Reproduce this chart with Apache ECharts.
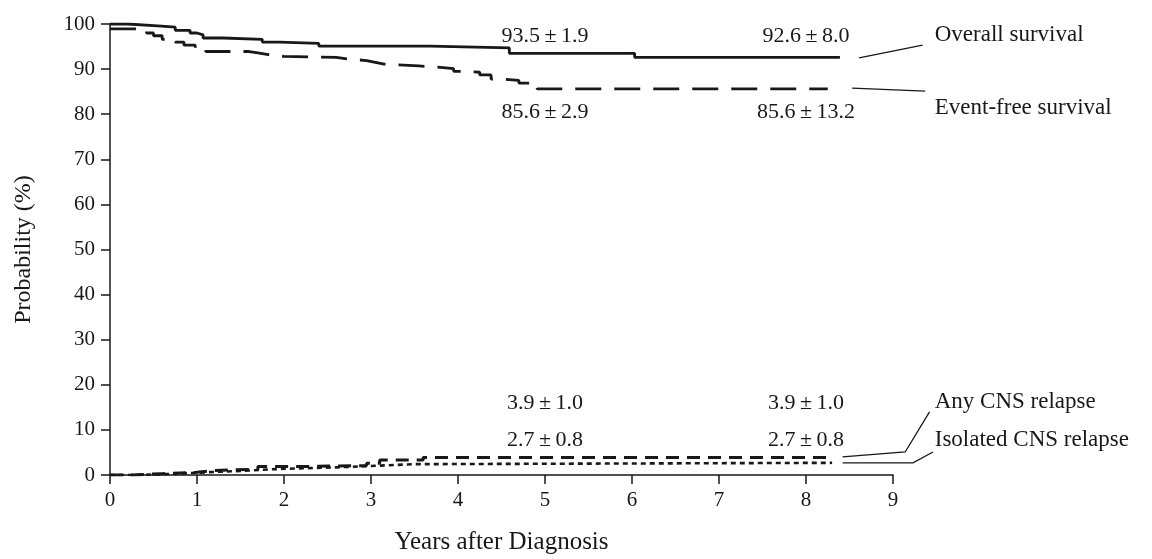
<!DOCTYPE html>
<html>
<head>
<meta charset="utf-8">
<script src="https://cdn.jsdelivr.net/npm/echarts@6/dist/echarts.min.js"></script>
<style>
  html, body { margin: 0; padding: 0; background: #ffffff; }
  #chart { width: 1152px; height: 559px; }
</style>
</head>
<body>
<div id="chart"></div>
<script>
// Kaplan-Meier estimates: [years after diagnosis, probability %]; each point starts a new step
const overallSurvival = [
  [0, 100], [0.2, 99.6], [0.55, 99.3], [0.75, 98.6], [0.92, 98.0], [1.0, 97.6],
  [1.07, 96.9], [1.3, 96.6], [1.75, 96.0], [1.95, 95.7], [2.4, 95.1],
  [3.68, 94.7], [4.59, 93.5], [6.03, 92.6], [8.39, 92.6]
];
const eventFreeSurvival = [
  [0, 98.9], [0.42, 98.0], [0.5, 97.4], [0.6, 96.6], [0.75, 96.0], [0.85, 95.3],
  [0.98, 94.7], [1.1, 93.9], [1.6, 93.6], [1.7, 93.2], [1.82, 92.8], [2.0, 92.6],
  [2.6, 92.2], [2.75, 91.9], [2.95, 91.5], [3.05, 91.1], [3.15, 90.7], [3.55, 90.4],
  [3.8, 90.1], [3.95, 89.5], [4.1, 89.3], [4.25, 88.7], [4.38, 87.8], [4.5, 87.5],
  [4.7, 86.9], [4.91, 85.6], [8.25, 85.6]
];
// Cumulative incidence of CNS relapse
const anyCnsRelapse = [
  [0, 0], [0.25, 0.3], [0.6, 0.6], [1.0, 1.0], [1.2, 1.3], [1.7, 1.9],
  [2.3, 2.1], [2.95, 2.6], [3.1, 3.3], [3.6, 3.9], [8.3, 3.9]
];
const isolatedCnsRelapse = [
  [0, 0], [0.3, 0.3], [0.8, 0.6], [1.1, 0.9], [1.5, 1.3], [1.9, 1.7],
  [2.6, 2.0], [3.0, 2.4], [3.5, 2.7], [8.3, 2.7]
];

// Estimates (± SE) quoted at 5 and 8 years
const estimateYears = [5, 8];
const osEstimates = ['93.5\u2009±\u20091.9', '92.6\u2009±\u20098.0'];
const efsEstimates = ['85.6\u2009±\u20092.9', '85.6\u2009±\u200913.2'];
const anyCnsEstimates = ['3.9\u2009±\u20091.0', '3.9\u2009±\u20091.0'];
const isolatedCnsEstimates = ['2.7\u2009±\u20090.8', '2.7\u2009±\u20090.8'];

const curveNames = ['Overall survival', 'Event-free survival', 'Any CNS relapse', 'Isolated CNS relapse'];

const INK = '#1a1718';
const FONT = '"Liberation Serif", "DejaVu Serif", serif';

function stepSeries(name, data, type, width) {
  return {
    name, type: 'line', step: 'end', data, symbol: 'none', silent: true,
    lineStyle: { color: INK, width, type, cap: 'butt' },
    z: 3
  };
}

function textSeries(points, align, size) {
  return {
    type: 'scatter', symbolSize: 0, silent: true, clip: false,
    itemStyle: { opacity: 1 },
    data: points,
    label: {
      show: true, position: 'inside', align: align, verticalAlign: 'middle',
      color: INK, fontFamily: FONT, fontSize: size, opacity: 1,
      formatter: p => p.value[2]
    },
    z: 5
  };
}

// Leader lines joining curve ends to their names (may extend past the x-axis range)
function leaderSeries(paths) {
  return {
    type: 'custom', silent: true, clip: false,
    data: paths.map((_, i) => [i]),
    renderItem: (params, api) => {
      const pts = paths[params.dataIndex].map(p => api.coord(p));
      return {
        type: 'polyline',
        shape: { points: pts },
        style: { stroke: INK, lineWidth: 1.3, fill: null }
      };
    },
    z: 4
  };
}

// Vertical placement (probability units) of each row of estimate text
const osRow = 97.4, efsRow = 80.5, anyRow = 16.0, isoRow = 7.8;
const nameX = 9.48;

const estimateData = [];
estimateYears.forEach((yr, i) => {
  estimateData.push([yr, osRow, osEstimates[i]]);
  estimateData.push([yr, efsRow, efsEstimates[i]]);
  estimateData.push([yr, anyRow, anyCnsEstimates[i]]);
  estimateData.push([yr, isoRow, isolatedCnsEstimates[i]]);
});

const nameData = [
  [nameX, 97.6, curveNames[0]],
  [nameX, 81.3, curveNames[1]],
  [nameX, 16.1, curveNames[2]],
  [nameX, 7.8, curveNames[3]]
];

const leaderPaths = [
  [[8.61, 92.5], [9.34, 95.3]],
  [[8.53, 85.8], [9.37, 85.1]],
  [[8.42, 4.0], [9.14, 5.1], [9.42, 14.0]],
  [[8.42, 2.7], [9.23, 2.7], [9.46, 5.1]]
];

const chart = echarts.init(document.getElementById('chart'), null, { renderer: 'canvas' });

chart.setOption({
  animation: false,
  backgroundColor: '#ffffff',
  grid: { left: 110, right: 259, top: 24, bottom: 84, containLabel: false, outerBoundsMode: 'none' },
  xAxis: {
    type: 'value', min: 0, max: 9, interval: 1,
    name: 'Years after Diagnosis', nameLocation: 'middle', nameGap: 55,
    nameTextStyle: { color: INK, fontFamily: FONT, fontSize: 25 },
    axisLine: { show: true, onZero: false, lineStyle: { color: INK, width: 1.5 } },
    axisTick: { show: true, inside: false, length: 9, lineStyle: { color: INK, width: 1.5 } },
    axisLabel: { color: INK, fontFamily: FONT, fontSize: 21, margin: 15 },
    splitLine: { show: false }
  },
  yAxis: {
    type: 'value', min: 0, max: 100, interval: 10,
    name: 'Probability (%)', nameLocation: 'middle', nameGap: 74, nameRotate: 90,
    nameTextStyle: { color: INK, fontFamily: FONT, fontSize: 24 },
    axisLine: { show: true, onZero: false, lineStyle: { color: INK, width: 1.5 } },
    axisTick: { show: true, inside: false, length: 9, lineStyle: { color: INK, width: 1.5 } },
    axisLabel: { color: INK, fontFamily: FONT, fontSize: 21, margin: 15 },
    splitLine: { show: false }
  },
  series: [
    stepSeries(curveNames[0], overallSurvival, 'solid', 2.8),
    stepSeries(curveNames[1], eventFreeSurvival, [26, 13], 2.8),
    stepSeries(curveNames[2], anyCnsRelapse, [13, 8], 3),
    stepSeries(curveNames[3], isolatedCnsRelapse, [5, 4], 2.6),
    textSeries(estimateData, 'center', 22),
    textSeries(nameData, 'left', 23),
    leaderSeries(leaderPaths)
  ]
});
</script>
</body>
</html>
